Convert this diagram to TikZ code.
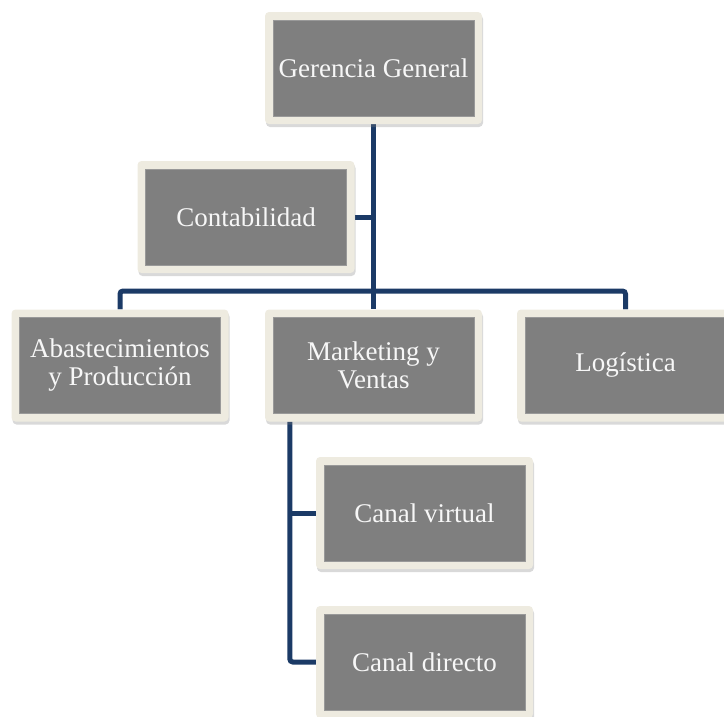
\documentclass[tikz,border=0pt]{standalone}
\usepackage{fontspec}
\setmainfont{Liberation Serif}
\usetikzlibrary{shadows,backgrounds}
\definecolor{framecol}{HTML}{EEEBE0}
\definecolor{boxgrey}{HTML}{7F7F7F}
\definecolor{boxedge}{HTML}{999999}
\definecolor{linecol}{HTML}{1B3A66}
\definecolor{txtcol}{HTML}{F7F7F7}
\begin{document}
\begin{tikzpicture}[x=1pt,y=-1pt,
  orgbox/.style={rectangle, minimum width=217pt, minimum height=112pt, inner sep=0pt,
    fill=framecol, rounded corners=4pt,
    drop shadow={shadow xshift=1pt, shadow yshift=-3pt, opacity=0.3},
    path picture={\draw[fill=boxgrey, draw=boxedge, line width=0.8pt, sharp corners]
      ([shift={(8pt,8pt)}]path picture bounding box.south west) rectangle
      ([shift={(-8pt,-8pt)}]path picture bounding box.north east);},
    text=txtcol, align=center, font=\fontsize{27}{28}\selectfont},
  conn/.style={draw=linecol, line width=5pt, rounded corners=3pt}]
\useasboundingbox (0,0) rectangle (724,716);
\node[orgbox] (ger) at (373.5,68) {Gerencia General};
\node[orgbox] (cont) at (246,217) {Contabilidad};
\node[orgbox] (abs) at (120,365.5) {Abastecimientos\\y Producción};
\node[orgbox] (mkt) at (373.5,365.5) {Marketing y\\Ventas};
\node[orgbox] (log) at (625.5,365.5) {Logística};
\node[orgbox] (vir) at (424.5,513) {Canal virtual};
\node[orgbox] (dir) at (424.5,662) {Canal directo};
\coordinate (bus) at (373.5,291);
\coordinate (mk) at ([xshift=25pt]mkt.south west);
\begin{scope}[on background layer]
\draw[conn] (ger.south) -- (mkt.north);
\draw[conn] (cont.east) -- (cont.east -| ger.south);
\draw[conn] (abs.north) |- (bus) -| (log.north);
\draw[conn] (mk) |- (dir.west);
\draw[conn] (vir.west) -- (vir.west -| mk);
\end{scope}
\end{tikzpicture}
\end{document}
